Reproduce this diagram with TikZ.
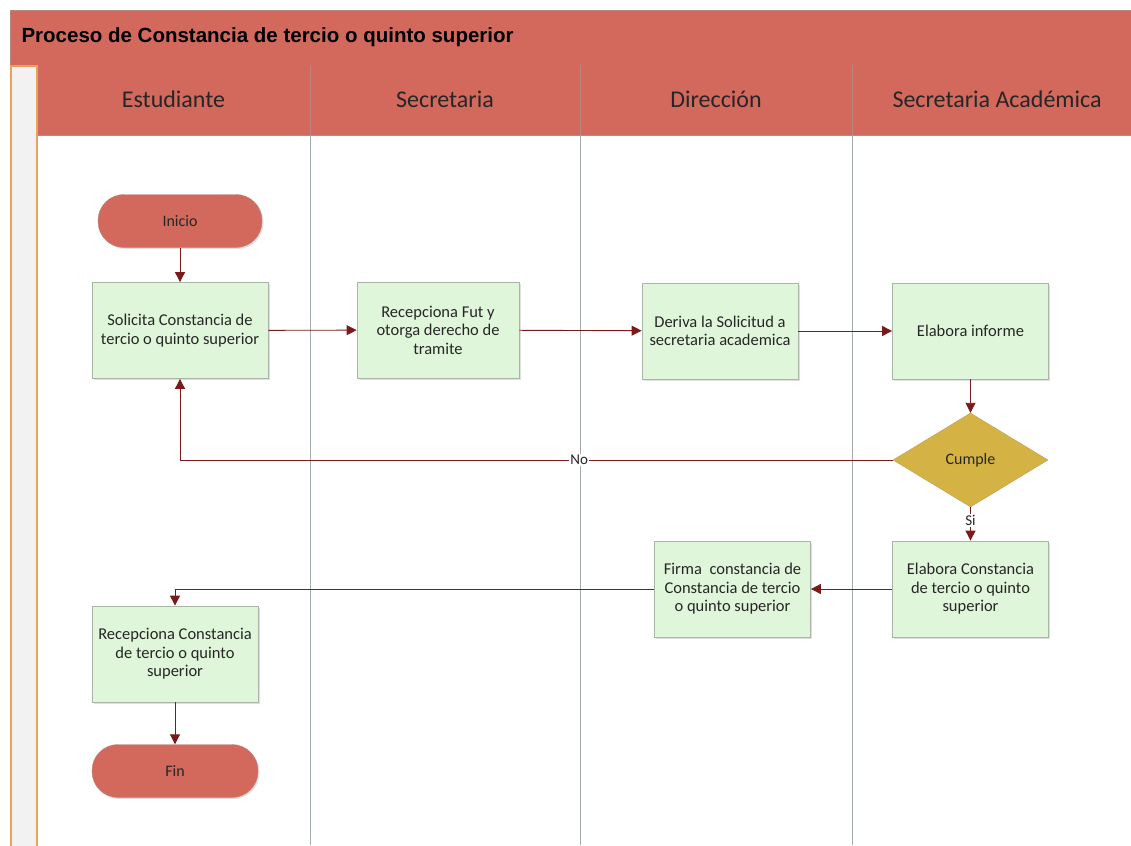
\documentclass[tikz,border=0pt]{standalone}
\usepackage{fontspec}
\setmainfont{Carlito}
\newfontfamily\titlefont{Liberation Sans}
\usetikzlibrary{shapes.geometric,arrows.meta,shadows}
\definecolor{hdr}{HTML}{D2695C}
\definecolor{hdrline}{HTML}{B9857E}
\definecolor{boxfill}{HTML}{E0F6DA}
\definecolor{boxline}{HTML}{A9B5A7}
\definecolor{dia}{HTML}{D4B244}
\definecolor{diaedge}{HTML}{B8A060}
\definecolor{arr}{HTML}{7A1B1B}
\definecolor{lane}{HTML}{A4ABAB}
\definecolor{strip}{HTML}{E8A25A}
\definecolor{txt}{HTML}{262626}
\tikzset{
  x=1pt, y=-1pt,
  procbox/.style={draw=boxline, fill=boxfill, line width=0.8pt, minimum width=#1, minimum height=96pt, align=center, text=txt, font=\fontsize{16.5}{18.5}\selectfont, inner sep=0pt, drop shadow={shadow xshift=1.5pt, shadow yshift=-1.5pt, opacity=0.25}},
  term/.style={draw=hdrline, fill=hdr, rounded corners=26pt, minimum width=164pt, minimum height=53pt, text=txt, font=\fontsize{16}{19}\selectfont, drop shadow={shadow xshift=1.5pt, shadow yshift=-1.5pt, opacity=0.25}},
  decision/.style={diamond, aspect=1.65, draw=diaedge, fill=dia, inner sep=0pt, minimum width=155pt, minimum height=94pt, text=txt, font=\fontsize{16}{19}\selectfont},
  flow/.style={draw=arr, line width=0.9pt, -{Triangle[length=10pt,width=10pt]}},
  lanehead/.style={font=\fontsize{24}{28}\selectfont, text=black!85},
  lbl/.style={font=\fontsize{15}{17}\selectfont, text=txt, fill=white, inner sep=1pt}
}
\begin{document}
\begin{tikzpicture}
\useasboundingbox (0,0) rectangle (1131,845);
% title bar
\fill[hdr] (10,10) rectangle (1131,65);
\draw[hdrline] (10,65) -- (10,10) -- (1131,10);
\node[anchor=west, font=\titlefont\bfseries\fontsize{20.5}{24}\selectfont] (title) at (18,37) {Proceso de Constancia de tercio o quinto superior};
% lane header
\fill[hdr] (37,65) rectangle (1131,135);
\draw[hdrline] (37,135) -- (1131,135);
% left strip
\draw[strip, fill=black!5, line width=1.6pt] (11,66) rectangle (37,847);
% lane separators
\foreach \xx in {310,580,852} {
  \draw[hdrline, line width=0.8pt] (\xx,65) -- (\xx,135);
  \draw[lane, line width=0.8pt] (\xx,135) -- (\xx,845);
}
\node[lanehead] (h1) at (173.5,99) {Estudiante};
\node[lanehead] (h2) at (445,99) {Secretaria};
\node[lanehead] (h3) at (716,99) {Dirección};
\node[lanehead] (h4) at (997,99) {Secretaria Académica};
% nodes
\node[term] (inicio) at (180,221) {Inicio};
\node[procbox=176pt] (solicita) at (180,330.5) {Solicita Constancia de\\tercio o quinto superior};
\node[procbox=162pt] (recfut) at (438,330) {Recepciona Fut y\\otorga derecho de\\tramite};
\node[procbox=156pt] (deriva) at (720,331) {Deriva la Solicitud a\\secretaria academica};
\node[procbox=156pt] (informe) at (970.5,331) {Elabora informe};
\node[decision] (cumple) at (970.5,460) {Cumple};
\node[procbox=156pt] (elabora) at (970.5,589) {Elabora Constancia\\de tercio o quinto\\superior};
\node[procbox=156pt] (firma) at (732.5,589) {Firma\ \ constancia de\\Constancia de tercio\\o quinto superior};
\node[procbox=166pt] (recep) at (175,654) {Recepciona Constancia\\de tercio o quinto\\superior};
\node[term, minimum width=166pt] (fin) at (175,771) {Fin};
% connectors
\draw[flow] (inicio) -- (solicita);
\draw[flow] (solicita) -- (recfut);
\draw[flow] (recfut) -- (deriva);
\draw[flow] (deriva) -- (informe);
\draw[flow] (informe) -- (cumple);
\draw[flow] (cumple.west) -| node[pos=0.22, lbl] {No} (solicita.south);
\draw[flow] (cumple.south) -- node[pos=0.4, lbl] {Si} (elabora.north);
\draw[flow] (elabora) -- (firma);
\draw[flow] (firma.west) -| (recep.north);
\draw[flow] (recep) -- (fin);
\end{tikzpicture}
\end{document}
